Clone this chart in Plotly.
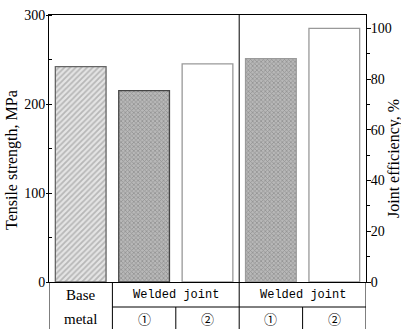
import plotly.graph_objects as go

categories = ["Base metal", "Welded joint ①", "Welded joint ②", "Welded joint ①", "Welded joint ②"]
tensile = [242, 215, 245, 251, 285]
efficiency_max = 285  # MPa that equals 100 % joint efficiency
left_ticks = [0, 100, 200, 300]
right_ticks = [0, 20, 40, 60, 80, 100]
group_labels = ["Welded joint", "Welded joint"]
sub_labels = ["①", "②", "①", "②"]

W, H = 401, 329
L, R, T, B = 49, 35, 15, 47
ph = H - T - B
pw = W - L - R

styles = [
    dict(shape="/", fg="#8a8a8a", bg="#e4e4e4", size=4, line="#666666"),
    dict(shape="x", fg="#6e6e6e", bg="#b8b8b8", size=3, line="#444444"),
    dict(shape="", fg="#ffffff", bg="#ffffff", size=4, line="#999999"),
    dict(shape="x", fg="#6e6e6e", bg="#b8b8b8", size=3, line="#9a9a9a"),
    dict(shape="", fg="#ffffff", bg="#ffffff", size=4, line="#999999"),
]

fig = go.Figure()
for i, (c, v) in enumerate(zip(categories, tensile)):
    s = styles[i]
    fig.add_trace(go.Bar(
        x=[i], y=[v], width=0.8, name=c, showlegend=False,
        marker=dict(color=s["bg"], line=dict(color=s["line"], width=1.3),
                    pattern=dict(shape=s["shape"], fgcolor=s["fg"], bgcolor=s["bg"],
                                 size=s["size"], solidity=0.45)),
    ))
# invisible trace for right axis
fig.add_trace(go.Scatter(x=[0], y=[0], yaxis="y2", mode="markers",
                         marker=dict(opacity=0), showlegend=False, hoverinfo="skip"))

serif = "Liberation Serif"
fig.update_layout(
    width=W, height=H, margin=dict(l=L, r=R, t=T, b=B, autoexpand=False),
    paper_bgcolor="white", plot_bgcolor="white",
    font=dict(family=serif, size=14, color="black"),
    xaxis=dict(range=[-0.5, 4.5], showticklabels=False, ticks="", showgrid=False, automargin=False,
               zeroline=False, showline=True, linecolor="black", linewidth=1, mirror=True),
    yaxis=dict(range=[0, 300], tickvals=left_ticks, ticks="outside", ticklen=2, automargin=False,
               ticklabelstandoff=-2,
               tickcolor="black", showgrid=False, zeroline=False, showline=True,
               linecolor="black", linewidth=1, tickfont=dict(family=serif, size=14),
               minor=dict(dtick=50, ticks="inside", ticklen=3, tickcolor="black")),
    yaxis2=dict(range=[0, 300 / efficiency_max * 100], tickvals=right_ticks, overlaying="y",
                side="right", ticks="outside", ticklen=4, tickcolor="black", showgrid=False,
                ticklabelstandoff=-3,
                zeroline=False, showline=True, linecolor="black", linewidth=1, automargin=False,
                tickfont=dict(family=serif, size=14),
                minor=dict(dtick=10, ticks="outside", ticklen=3, tickcolor="black")),
)

def py(px):
    # pixel y (from top) to paper coordinate
    return (H - B - px) / ph

def pxp(px):
    return (px - L) / pw

row1 = py(307)
bottom = py(340)
lw = dict(color="black", width=1)
shapes = [
    dict(type="line", xref="x", yref="paper", x0=2.5, x1=2.5, y0=1, y1=bottom, line=lw),
    dict(type="line", xref="x", yref="paper", x0=-0.5, x1=-0.5, y0=0, y1=bottom, line=lw),
    dict(type="line", xref="x", yref="paper", x0=0.5, x1=0.5, y0=0, y1=bottom, line=lw),
    dict(type="line", xref="x", yref="paper", x0=4.5, x1=4.5, y0=0, y1=bottom, line=lw),
    dict(type="line", xref="x", yref="paper", x0=1.5, x1=1.5, y0=row1, y1=bottom, line=lw),
    dict(type="line", xref="x", yref="paper", x0=3.5, x1=3.5, y0=row1, y1=bottom, line=lw),
    dict(type="line", xref="x", yref="paper", x0=0.5, x1=4.5, y0=row1, y1=row1, line=lw),
]
fig.update_layout(shapes=shapes)

mono = "Liberation Mono"
ann = []
ann.append(dict(x=0, y=py(294.5), text="Base", font=dict(family=serif, size=15)))
ann.append(dict(x=0, y=py(318.5), text="metal", font=dict(family=serif, size=15)))
for xi, t in zip([1.5, 3.5], group_labels):
    ann.append(dict(x=xi, y=py(295), text=t, font=dict(family=mono, size=12)))
for xi, t in zip([1, 2, 3, 4], sub_labels):
    ann.append(dict(x=xi, y=py(318.5), text=t, font=dict(family="Noto Sans CJK SC", size=13)))
for a in ann:
    a.update(xref="x", yref="paper", showarrow=False, xanchor="center", yanchor="middle")
# axis titles
ann.append(dict(xref="paper", yref="paper", x=pxp(12), y=py(160), text="Tensile strength, MPa",
                textangle=-90, showarrow=False, xanchor="center", yanchor="middle",
                font=dict(family=serif, size=16)))
ann.append(dict(xref="paper", yref="paper", x=pxp(394), y=py(158), text="Joint efficiency, %",
                textangle=-90, showarrow=False, xanchor="center", yanchor="middle",
                font=dict(family=serif, size=16)))
fig.update_layout(annotations=ann)

fig.write_html("out.html", config={"displayModeBar": False},
               post_script="document.body.style.margin='0px';")
